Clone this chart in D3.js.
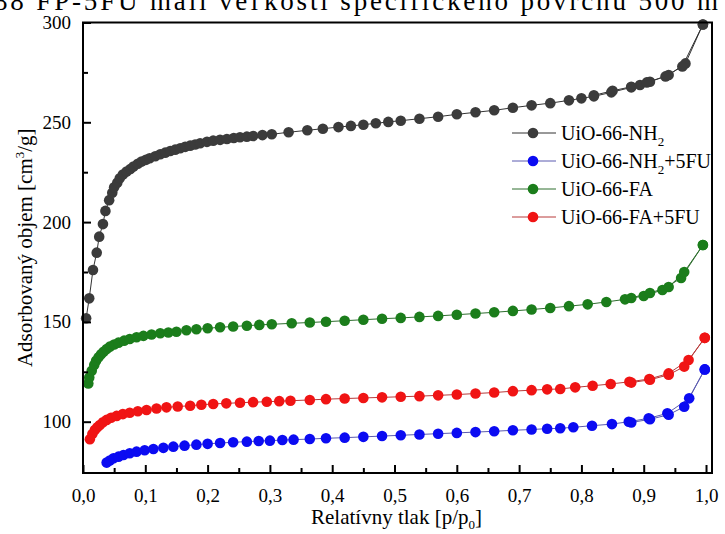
<!DOCTYPE html>
<html><head><meta charset="utf-8">
<script src="https://cdn.jsdelivr.net/npm/d3@7"></script>
<style>
body{margin:0;background:#fff}
svg{display:block}
</style>
</head><body>
<svg id="chart" width="725" height="534"></svg>
<script>
// ---------- DATA ----------
const captionText = "88 FP-5FU mali veľkosti špecifického povrchu 500 m";

// UiO-66-NH2
const pAdsNH2 = [0.005,0.010,0.016,0.022,0.026,0.032,0.036,0.042,0.047,0.050,0.055,0.059,0.064,0.070,0.076,0.081,0.088,0.094,0.101,0.107,0.116,0.124,0.132,0.140,0.148,0.156,0.164,0.172,0.180,0.188,0.199,0.209,0.220,0.231,0.242,0.252,0.263,0.273,0.288,0.303,0.33,0.36,0.385,0.41,0.43,0.45,0.47,0.49,0.51,0.54,0.57,0.60,0.63,0.66,0.69,0.72,0.75,0.78,0.80,0.82,0.848,0.88,0.894,0.91,0.94,0.967,0.995];
const vAdsNH2 = [151.8,161.8,176,184.7,192.7,199,205.6,211,214.7,217.4,219.7,222,223.8,225.3,226.6,227.8,229.2,230.3,231.2,232,233,234,234.8,235.6,236.3,237,237.7,238.3,238.9,239.5,240.2,240.8,241.2,241.6,242.1,242.5,242.8,243.1,243.6,244,245,246,246.8,247.6,248.2,248.8,249.5,250.2,250.8,251.8,252.8,254,255,256,257.3,258.5,259.6,261,262,263,265,267.5,268.7,270.3,273.7,279.5,299];
const pDesNH2 = [0.995,0.962,0.935,0.905,0.88,0.85,0.82];
const vDesNH2 = [299,278,273,270,267.8,265.8,263.5];

// UiO-66-NH2+5FU
const pAdsNH2FU = [0.038,0.043,0.049,0.057,0.065,0.075,0.086,0.099,0.113,0.129,0.145,0.163,0.182,0.200,0.220,0.241,0.263,0.282,0.300,0.320,0.338,0.364,0.39,0.42,0.45,0.48,0.51,0.54,0.57,0.60,0.63,0.66,0.69,0.72,0.745,0.766,0.787,0.817,0.849,0.876,0.908,0.938,0.973,0.998];
const vAdsNH2FU = [79.5,80.6,81.7,82.5,83.3,84.2,85,85.7,86.3,86.9,87.5,88,88.5,88.9,89.3,89.7,90,90.3,90.5,90.8,91,91.3,91.7,92,92.4,92.8,93.2,93.6,94,94.4,94.8,95.2,95.7,96.1,96.5,96.7,97.2,98,98.8,100,101.7,104.2,111.7,126.2];
const pDesNH2FU = [0.998,0.965,0.94,0.91,0.88];
const vDesNH2FU = [126.2,107.5,103.5,101.2,99.6];

// UiO-66-FA
const pAdsFA = [0.0085,0.010,0.014,0.018,0.021,0.025,0.029,0.033,0.038,0.043,0.050,0.057,0.066,0.075,0.086,0.097,0.110,0.124,0.137,0.150,0.166,0.182,0.200,0.220,0.241,0.263,0.283,0.303,0.335,0.364,0.39,0.42,0.45,0.48,0.51,0.54,0.57,0.60,0.63,0.66,0.69,0.72,0.75,0.78,0.81,0.84,0.87,0.90,0.93,0.96,0.995];
const vAdsFA = [119.2,122.2,125.5,128.4,130.5,132.3,133.8,135,136.4,137.6,138.7,139.6,140.6,141.4,142.3,143,143.7,144.3,144.7,145.1,145.8,146.3,146.8,147.3,147.7,148.1,148.5,148.8,149.3,149.7,150.1,150.6,151.1,151.6,152,152.5,153,153.6,154.2,154.8,155.5,156.2,157,157.9,158.8,160,161.3,163,166,172,188.5];
const pDesFA = [0.995,0.965,0.94,0.91,0.88];
const vDesFA = [188.5,175,167.5,164.5,162];

// UiO-66-FA+5FU
const pAdsFAFU = [0.011,0.015,0.019,0.023,0.027,0.032,0.038,0.045,0.054,0.064,0.075,0.088,0.102,0.118,0.134,0.152,0.172,0.190,0.209,0.230,0.252,0.273,0.295,0.315,0.333,0.364,0.39,0.42,0.45,0.48,0.51,0.54,0.57,0.60,0.63,0.66,0.69,0.72,0.745,0.766,0.79,0.818,0.847,0.877,0.909,0.94,0.972,0.998];
const vAdsFAFU = [91.2,93.8,95.8,97.2,98.3,99.7,100.9,102,102.9,103.8,104.5,105.2,105.9,106.6,107.2,107.6,108,108.5,108.9,109.2,109.5,109.8,110,110.3,110.5,110.9,111.3,111.6,111.9,112.2,112.5,112.8,113.2,113.6,114.1,114.6,115.3,115.8,116.2,116.4,117.2,118,118.9,120,121.4,124.2,130.9,142];
const pDesFAFU = [0.998,0.965,0.94,0.91,0.88];
const vDesFAFU = [142,127.6,123.5,121,119.6];

const xTicks = [0,0.1,0.2,0.3,0.4,0.5,0.6,0.7,0.8,0.9,1.0];
const xMinorTicks = [0.05,0.15,0.25,0.35,0.45,0.55,0.65,0.75,0.85,0.95];
const yTicks = [100,150,200,250,300];
const yMinorTicks = [125,175,225,275];

// ---------- CHART ----------
const FONT = '"Liberation Serif", Tinos, monospace';
const svg = d3.select("#chart");
const L = 83, R = 712, T = 22.5, B = 473;
const x = d3.scaleLinear().domain([0, 1.0096]).range([L, R]);
const y = d3.scaleLinear().domain([74.3, 300]).range([B, T]);

// caption (clipped at top edge as in the source page)
svg.append("text").attr("x", -6).attr("y", 10).attr("font-size", 27)
  .attr("textLength", 724).attr("lengthAdjust", "spacing").text(captionText);

const series = [
  {ads:[pAdsNH2,vAdsNH2], des:[pDesNH2,vDesNH2], fill:"#3b3b3b", line:"#333333"},
  {ads:[pAdsNH2FU,vAdsNH2FU], des:[pDesNH2FU,vDesNH2FU], fill:"#0b0bf2", line:"#5a5ab0"},
  {ads:[pAdsFA,vAdsFA], des:[pDesFA,vDesFA], fill:"#1b7d1b", line:"#2e6e2e"},
  {ads:[pAdsFAFU,vAdsFAFU], des:[pDesFAFU,vDesFAFU], fill:"#f01414", line:"#b83a3a"}
];

const line = d3.line().x(d => x(d[0])).y(d => y(d[1]));
const plot = svg.append("g");
series.forEach(s => {
  const ads = s.ads[0].map((p,i) => [p, s.ads[1][i]]);
  const des = s.des[0].map((p,i) => [p, s.des[1][i]]);
  plot.append("path").datum(ads).attr("d", line).attr("fill","none").attr("stroke", s.line).attr("stroke-width", 1);
  plot.append("path").datum(des).attr("d", line).attr("fill","none").attr("stroke", s.line).attr("stroke-width", 1);
});
series.forEach(s => {
  const pts = s.ads[0].map((p,i) => [p, s.ads[1][i]]).concat(s.des[0].map((p,i) => [p, s.des[1][i]]));
  plot.selectAll(null).data(pts).enter().append("circle")
    .attr("cx", d => x(d[0])).attr("cy", d => y(d[1])).attr("r", 5.3).attr("fill", s.fill);
});

// frame
svg.append("rect").attr("x", L).attr("y", T).attr("width", R-L).attr("height", B-T)
  .attr("fill","none").attr("stroke","#000").attr("stroke-width", 2);

// axes
const fmt = d => d3.format(".1f")(d).replace(".", ",");
const xAxis = svg.append("g").attr("transform", `translate(0,${B})`)
  .call(d3.axisBottom(x).tickValues(xTicks).tickFormat(fmt).tickSizeInner(-8).tickSizeOuter(0).tickPadding(16));
xAxis.select(".domain").remove();
xAxis.selectAll("line").attr("stroke","#000").attr("stroke-width",2);
xAxis.selectAll("text").attr("font-size", 19).attr("fill", "#000");
const xMinor = svg.append("g").attr("transform", `translate(0,${B})`)
  .call(d3.axisBottom(x).tickValues(xMinorTicks).tickFormat("").tickSizeInner(-5).tickSizeOuter(0));
xMinor.select(".domain").remove();
xMinor.selectAll("line").attr("stroke","#000").attr("stroke-width",2);

const yAxis = svg.append("g").attr("transform", `translate(${L},0)`)
  .call(d3.axisLeft(y).tickValues(yTicks).tickFormat(d3.format("d")).tickSizeInner(-8).tickSizeOuter(0).tickPadding(12));
yAxis.select(".domain").remove();
yAxis.selectAll("line").attr("stroke","#000").attr("stroke-width",2);
yAxis.selectAll("text").attr("font-size", 19).attr("fill", "#000");
const yMinor = svg.append("g").attr("transform", `translate(${L},0)`)
  .call(d3.axisLeft(y).tickValues(yMinorTicks).tickFormat("").tickSizeInner(-5).tickSizeOuter(0));
yMinor.select(".domain").remove();
yMinor.selectAll("line").attr("stroke","#000").attr("stroke-width",2);

// axis titles
const xt = svg.append("text").attr("x", (L+R)/2 - 1).attr("y", 524).attr("text-anchor","middle").attr("font-size", 21);
xt.append("tspan").text("Relatívny tlak [p/p");
xt.append("tspan").attr("dy", 5).attr("font-size", 13).text("0");
xt.append("tspan").attr("dy", -5).text("]");

const yt = svg.append("text").attr("transform", `translate(32,${(T+B)/2}) rotate(-90)`).attr("text-anchor","middle").attr("font-size", 21);
yt.append("tspan").text("Adsorbovaný objem [cm");
yt.append("tspan").attr("dy", -8).attr("font-size", 13).text("3");
yt.append("tspan").attr("dy", 8).text("/g]");

// legend
const legRows = [
  {s: series[0], parts:[["UiO-66-NH",0],["2",1]]},
  {s: series[1], parts:[["UiO-66-NH",0],["2",1],["+5FU",0]]},
  {s: series[2], parts:[["UiO-66-FA",0]]},
  {s: series[3], parts:[["UiO-66-FA+5FU",0]]}
];
legRows.forEach((r, i) => {
  const cy = 133 + i*28;
  svg.append("line").attr("x1", 512).attr("x2", 556).attr("y1", cy).attr("y2", cy).attr("stroke", r.s.line).attr("stroke-width", 1);
  svg.append("circle").attr("cx", 533).attr("cy", cy).attr("r", 5.3).attr("fill", r.s.fill);
  const t = svg.append("text").attr("x", 561).attr("y", cy + 7).attr("font-size", 20);
  let sub = false;
  r.parts.forEach(p => {
    const ts = t.append("tspan").text(p[0]);
    if (p[1] === 1) { ts.attr("dy", 6).attr("font-size", 13); sub = true; }
    else if (sub) { ts.attr("dy", -6); sub = false; }
  });
});
svg.selectAll("text").style("font-family", FONT);
</script>
</body></html>
